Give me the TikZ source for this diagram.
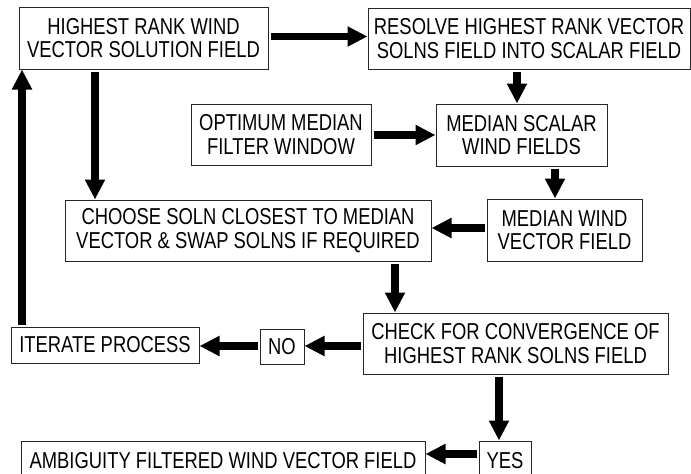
\documentclass[tikz,border=0pt]{standalone}
\usepackage{fontspec}
\setmainfont{Liberation Sans}[FakeStretch=0.80]
\usetikzlibrary{arrows.meta}
\begin{document}
\begin{tikzpicture}[x=1pt,y=-1pt,
  box/.style={draw=black!85, line width=1pt, inner sep=0pt, align=center,
    font=\fontsize{23}{23.5}\selectfont},
  arr/.style={line width=7.5pt, -{Triangle[length=20pt,width=19pt]}, shorten <=2pt}]
\useasboundingbox (0,0) rectangle (691,474);
\node[box, minimum width=249pt, minimum height=62pt] (A) at (143.5,38) {HIGHEST RANK WIND\\VECTOR SOLUTION FIELD};
\node[box, minimum width=322pt, minimum height=61pt] (B) at (529,38.5) {RESOLVE HIGHEST RANK VECTOR\\SOLNS FIELD INTO SCALAR FIELD};
\node[box, minimum width=180pt, minimum height=61pt] (C) at (281,134.5) {OPTIMUM MEDIAN\\FILTER WINDOW};
\node[box, minimum width=171pt, minimum height=62pt] (D) at (521.5,135) {MEDIAN SCALAR\\WIND FIELDS};
\node[box, minimum width=155pt, minimum height=62pt] (E) at (564.5,230) {MEDIAN WIND\\VECTOR FIELD};
\node[box, minimum width=366pt, minimum height=61pt] (F) at (248,230.5) {CHOOSE SOLN CLOSEST TO MEDIAN\\VECTOR \& SWAP SOLNS IF REQUIRED};
\node[box, minimum width=305pt, minimum height=61pt] (G) at (515.5,343.5) {CHECK FOR CONVERGENCE OF\\HIGHEST RANK SOLNS FIELD};
\node[box, minimum width=188pt, minimum height=36pt] (H) at (105,345) {ITERATE PROCESS};
\node[box, minimum width=44pt, minimum height=35pt] (I) at (282,346.5) {NO};
\node[box, minimum width=404pt, minimum height=39pt] (J) at (223,460.5) {AMBIGUITY FILTERED WIND VECTOR FIELD};
\node[box, minimum width=52pt, minimum height=39pt] (K) at (505,460.5) {YES};

\draw[arr] (A.east |- 0,36.5) -- (B.west |- 0,36.5);
\draw[arr] (517,0 |- B.south) -- (517,0 |- D.north);
\draw[arr] (C.east |- 0,135) -- (D.west |- 0,135);
\draw[arr] (555,0 |- D.south) -- (555,0 |- E.north);
\draw[arr] (E.west |- 0,228) -- (F.east |- 0,228);
\draw[arr] (95,0 |- A.south) -- (95,0 |- F.north);
\draw[arr] (395,0 |- F.south) -- (395,0 |- G.north);
\draw[arr] (G.west |- 0,346) -- (I.east |- 0,346);
\draw[arr] (I.west |- 0,346) -- (H.east |- 0,346);
\draw[arr] (22,0 |- H.north) -- (22,0 |- A.south);
\draw[arr] (499,0 |- G.south) -- (499,0 |- K.north);
\draw[arr] (K.west |- 0,454) -- (J.east |- 0,454);
\end{tikzpicture}
\end{document}
